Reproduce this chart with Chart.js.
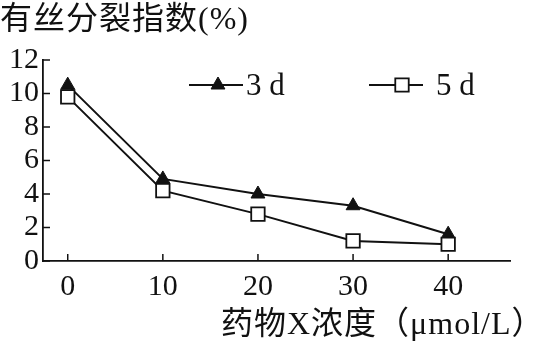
<!DOCTYPE html>
<html>
<head>
<meta charset="utf-8">
<script src="https://cdn.jsdelivr.net/npm/chart.js@4"></script>
<style>
  html, body { margin: 0; padding: 0; background: #fff; }
  #wrap { width: 539px; height: 345px; }
</style>
</head>
<body>
<div id="wrap"><canvas id="chart"></canvas></div>
<script>
// concentrations of drug X (µmol/L)
const doses = [0, 10, 20, 30, 40];
const day3 = [10.5, 4.9, 4.0, 3.3, 1.6];
const day5 = [9.8, 4.2, 2.8, 1.2, 1.0];
const yTicks = [0, 2, 4, 6, 8, 10, 12];
const seriesNames = ['3 d', '5 d'];

const serif = '"Liberation Serif", "Noto Sans CJK SC", serif';

// inner tick marks, titles and the little legend
const extras = {
  id: 'extras',
  afterDraw(chart) {
    const ctx = chart.ctx;
    const xs = chart.scales.x, ys = chart.scales.y;
    ctx.save();
    ctx.strokeStyle = '#111';
    ctx.lineWidth = 1.5;
    ys.ticks.forEach(t => {
      const py = ys.getPixelForValue(t.value);
      ctx.beginPath(); ctx.moveTo(xs.left, py); ctx.lineTo(xs.left + 7, py); ctx.stroke();
    });
    xs.ticks.forEach(t => {
      const px = xs.getPixelForValue(t.value);
      ctx.beginPath(); ctx.moveTo(px, ys.bottom); ctx.lineTo(px, ys.bottom - 7); ctx.stroke();
    });

    ctx.fillStyle = '#111';
    ctx.textBaseline = 'alphabetic';
    ctx.font = '32px ' + serif;
    ctx.textAlign = 'left';
    ctx.letterSpacing = '1px';
    ctx.fillText('有丝分裂指数(%)', 0, 29);
    ctx.fillText('药物X浓度（μmol/L）', 221, 334);
    ctx.letterSpacing = '0px';

    // legend
    const items = [
      { x0: 189, x1: 243, mx: 218, tx: 246, ds: chart.data.datasets[0] },
      { x0: 369, x1: 423, mx: 402, tx: 436, ds: chart.data.datasets[1] }
    ];
    const ly = 85;
    items.forEach(it => {
      ctx.lineWidth = 2;
      ctx.beginPath(); ctx.moveTo(it.x0, ly); ctx.lineTo(it.x1, ly); ctx.stroke();
      ctx.fillStyle = it.ds.pointBackgroundColor;
      ctx.strokeStyle = '#111';
      ctx.lineWidth = it.ds.pointBorderWidth;
      Chart.helpers.drawPoint(ctx, { pointStyle: it.ds.pointStyle, radius: it.ds.pointRadius, borderWidth: it.ds.pointBorderWidth, rotation: 0 }, it.mx, ly);
      ctx.fillStyle = '#111';
      ctx.font = '31px ' + serif;
      ctx.fillText(it.ds.label, it.tx, ly + 10);
    });
    ctx.restore();
  }
};

new Chart(document.getElementById('chart'), {
  type: 'line',
  data: {
    datasets: [
      {
        label: seriesNames[0],
        data: doses.map((d, i) => ({ x: d, y: day3[i] })),
        borderColor: '#111', borderWidth: 2,
        pointStyle: 'triangle', pointRadius: 8,
        pointBackgroundColor: '#111', pointBorderColor: '#111', pointBorderWidth: 1,
        order: 2
      },
      {
        label: seriesNames[1],
        data: doses.map((d, i) => ({ x: d, y: day5[i] })),
        borderColor: '#111', borderWidth: 2,
        pointStyle: 'rect', pointRadius: 9.5,
        pointBackgroundColor: '#fff', pointBorderColor: '#111', pointBorderWidth: 1.8,
        order: 1
      }
    ]
  },
  options: {
    responsive: true,
    maintainAspectRatio: false,
    animation: false,
    layout: { padding: { top: 60, right: 29, left: 0, bottom: 0 } },
    plugins: { legend: { display: false }, tooltip: { enabled: false } },
    scales: {
      x: {
        type: 'linear', min: -2.6, max: 46.5,
        afterBuildTicks: s => { s.ticks = doses.map(v => ({ value: v })); },
        afterFit: s => { s.height = 84; },
        grid: { display: false, drawTicks: false },
        border: { display: true, color: '#111', width: 1.8 },
        ticks: { color: '#111', padding: 8, autoSkip: false, maxRotation: 0, font: { family: serif, size: 30 } }
      },
      y: {
        min: 0, max: 12,
        afterBuildTicks: s => { s.ticks = yTicks.map(v => ({ value: v })); },
        afterFit: s => { s.width = 43; },
        grid: { display: false, drawTicks: false },
        border: { display: true, color: '#111', width: 1.8 },
        ticks: { color: '#111', padding: 4, autoSkip: false, font: { family: serif, size: 30 } }
      }
    }
  },
  plugins: [extras]
});
</script>
</body>
</html>
